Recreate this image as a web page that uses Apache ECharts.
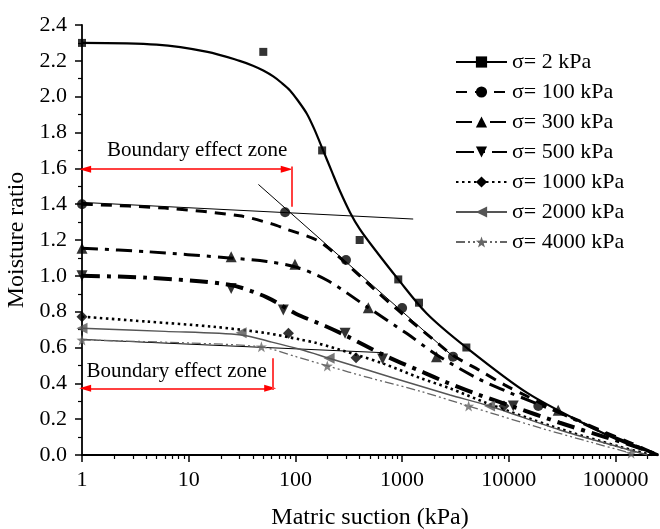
<!DOCTYPE html>
<html><head><meta charset="utf-8">
<script src="https://cdn.jsdelivr.net/npm/echarts@6/dist/echarts.min.js"></script>
<style>html,body{margin:0;padding:0;background:#fff}#c{width:660px;height:529px}</style>
</head><body><div id="c"></div>
<script>
// ---- data ----
const xTickValues = [1, 10, 100, 1000, 10000, 100000];
const xMinorTickValues = [2,3,4,5,6,7,8,9, 20,30,40,50,60,70,80,90, 200,300,400,500,600,700,800,900,
  2000,3000,4000,5000,6000,7000,8000,9000, 20000,30000,40000,50000,60000,70000,80000,90000, 200000];
const seriesNames = ['σ= 2 kPa','σ= 100 kPa','σ= 300 kPa','σ= 500 kPa','σ= 1000 kPa','σ= 2000 kPa','σ= 4000 kPa'];

// fitted curves [suction kPa, moisture ratio]
const fit2 = [[1,2.30],[5,2.29],[15,2.25],[30,2.20],[40,2.173],[50,2.146],[62,2.113],[75,2.075],[89,2.035],[105,1.98],[128,1.905],[150,1.82],[183,1.696],[220,1.58],[262,1.472],[325,1.354],[400,1.262],[537,1.158],[920,0.98],[1700,0.79],[4000,0.60],[15000,0.345],[57700,0.158],[120000,0.07],[250000,0]];
const fit100 = [[1,1.40],[6,1.378],[30,1.335],[60,1.29],[83,1.26],[158,1.20],[244,1.116],[537,0.93],[950,0.80],[2250,0.615],[3000,0.555],[5400,0.47],[9200,0.39],[15200,0.325],[27000,0.25],[46000,0.19],[81000,0.125],[142000,0.065],[250000,0]];
const fit300 = [[1,1.154],[4,1.135],[24,1.10],[54,1.08],[100,1.05],[196,0.977],[482,0.822],[1100,0.679],[2100,0.56],[5000,0.43],[10000,0.35],[30000,0.235],[80000,0.12],[150000,0.055],[250000,0]];
const fit500 = [[1,1.00],[4,0.99],[24,0.95],[54,0.88],[100,0.79],[190,0.72],[300,0.665],[660,0.56],[1600,0.46],[2500,0.41],[5000,0.34],[11000,0.27],[30000,0.18],[80000,0.10],[150000,0.05],[250000,0]];
const fit1000 = [[1,0.772],[4,0.745],[17,0.716],[54,0.68],[110,0.645],[158,0.625],[370,0.56],[667,0.51],[1470,0.43],[2810,0.372],[6200,0.29],[26100,0.158],[110000,0.046],[220000,0]];
const fit2000 = [[1,0.707],[6,0.69],[31,0.67],[60,0.63],[110,0.59],[207,0.54],[500,0.47],[1470,0.385],[2810,0.335],[6600,0.273],[30000,0.14],[100000,0.05],[200000,0]];
const fit4000 = [[1,0.642],[10,0.625],[48,0.603],[100,0.55],[200,0.497],[500,0.43],[1500,0.355],[4200,0.273],[20000,0.15],[60000,0.07],[140000,0.01]];

// measured points
const pts2 = [[1,2.30],[50,2.25],[178,1.70],[400,1.20],[920,0.98],[1440,0.85],[4000,0.60]];
const pts100 = [[1,1.40],[80,1.355],[298,1.088],[1000,0.82],[3000,0.549],[18900,0.273]];
const pts300 = [[1,1.154],[25,1.107],[99,1.064],[482,0.822],[2100,0.549],[29000,0.25]];
const pts500 = [[1,1.00],[25,0.93],[77,0.81],[292,0.679],[657,0.536],[11000,0.273]];
const pts1000 = [[1,0.772],[86,0.679],[370,0.543],[9000,0.273]];
const pts2000 = [[1,0.707],[31,0.683],[207,0.54],[6600,0.273]];
const pts4000 = [[1,0.642],[48,0.604],[199,0.497],[4200,0.273],[140000,0.01]];

// construction lines
const tangentSteep = [[45,1.51],[3000,0.55]];
const tangentFlat100 = [[1,1.41],[1270,1.317]];
const tangentFlat4000 = [[1,0.645],[667,0.571]];

// annotations
const zoneTopArrow = [[1.07,1.595],[83,1.595]];
const zoneTopBar = [[93,1.385],[93,1.61]];
const zoneTopText = [12,1.70];
const zoneBotArrow = [[1.07,0.372],[58,0.372]];
const zoneBotBar = [[61,0.363],[61,0.54]];
const zoneBotText = [7.7,0.465];
const zoneLabel = 'Boundary effect zone';

// ---- styles ----
const FONT = "'Liberation Serif', 'Times New Roman', serif";
const STAR = 'path://M0,-10 L2.35,-3.24 L9.51,-3.09 L3.8,1.24 L5.88,8.09 L0,4 L-5.88,8.09 L-3.8,1.24 L-9.51,-3.09 L-2.35,-3.24 Z';
const styles = [
  {color:'#000', width:2.2, type:'solid', symbol:'rect', size:8, rot:0},
  {color:'#000', width:3, type:[11,8], symbol:'circle', size:10, rot:0},
  {color:'#000', width:3, type:[16,7,4,7], symbol:'triangle', size:11, rot:0},
  {color:'#000', width:4, type:[18,7,4,7], symbol:'triangle', size:11, rot:180},
  {color:'#000', width:2.6, type:[2.5,3.5], symbol:'diamond', size:11, rot:0},
  {color:'#555', width:1.5, type:'solid', symbol:'triangle', size:11, rot:90},
  {color:'#666', width:1.3, type:[9,3,2,3,2,3], symbol:STAR, size:11, rot:0}
];
const fits = [fit2, fit100, fit300, fit500, fit1000, fit2000, fit4000];
const pts = [pts2, pts100, pts300, pts500, pts1000, pts2000, pts4000];

const series = [];
fits.forEach((f, i) => {
  const s = styles[i];
  series.push({
    type:'line', name: seriesNames[i], data: f, smooth: 0.3,
    showSymbol:false, symbol:s.symbol, symbolSize:s.size, symbolRotate:s.rot,
    lineStyle:{color:s.color, width:s.width, type:s.type, cap:'butt'},
    itemStyle:{color:s.color}, silent:true, z:2
  });
});
pts.forEach((p, i) => {
  const s = styles[i];
  series.push({
    type:'scatter', name: seriesNames[i], data: p,
    symbol:s.symbol, symbolSize:s.size, symbolRotate:s.rot,
    itemStyle:{color:s.color}, silent:true, z:3
  });
});
[tangentSteep, tangentFlat100, tangentFlat4000].forEach(t => {
  series.push({type:'line', data:t, showSymbol:false, silent:true, z:1,
    lineStyle:{color:'#000', width:1}});
});
const redLine = {color:'#ff0000', width:1.5, type:'solid'};
const redBar = {color:'#ff4040', width:2, type:'solid'};
series.push({
  type:'line', data:[], silent:true, z:4,
  markLine:{
    silent:true, animation:false, label:{show:false},
    emphasis:{disabled:true},
    data:[
      [{coord:zoneTopArrow[0], symbol:'triangle', symbolSize:[7,12], lineStyle:redLine},
       {coord:zoneTopArrow[1], symbol:'triangle', symbolSize:[7,12]}],
      [{coord:zoneBotArrow[0], symbol:'triangle', symbolSize:[7,12], lineStyle:redLine},
       {coord:zoneBotArrow[1], symbol:'triangle', symbolSize:[7,12]}],
      [{coord:zoneTopBar[0], symbol:'none', lineStyle:redBar},
       {coord:zoneTopBar[1], symbol:'none'}],
      [{coord:zoneBotBar[0], symbol:'none', lineStyle:redBar},
       {coord:zoneBotBar[1], symbol:'none'}]
    ]
  },
  markPoint:{
    silent:true, animation:false, symbolSize:0,
    label:{show:true, position:'inside', color:'#000', fontSize:21, fontFamily:FONT, formatter:zoneLabel},
    data:[{coord:zoneTopText}, {coord:zoneBotText}]
  }
});

const chart = echarts.init(document.getElementById('c'), null, {renderer:'canvas'});
chart.setOption({
  animation:false,
  backgroundColor:'#fff',
  textStyle:{fontFamily:FONT},
  grid:{left:82, right:2, top:25, bottom:74, containLabel:false, outerBoundsMode:'none'},
  legend:{
    orient:'vertical', left:455, top:51, padding:0, itemWidth:51, itemHeight:14, itemGap:8,
    selectedMode:false, data:seriesNames,
    textStyle:{fontSize:22, lineHeight:22, fontFamily:FONT, color:'#000'}
  },
  xAxis:[{
    type:'log', logBase:10, min:1, max:250000,
    name:'Matric suction (kPa)', nameLocation:'middle', nameGap:51,
    nameTextStyle:{fontSize:24, fontFamily:FONT, color:'#000'},
    axisLine:{show:true, onZero:false, lineStyle:{color:'#000', width:1.8}},
    axisTick:{show:true, inside:false, length:7, customValues:xTickValues, lineStyle:{color:'#000', width:1.5}},
    axisLabel:{margin:14, fontSize:22, fontFamily:FONT, color:'#000', customValues:xTickValues,
      formatter: v => String(Math.round(v))},
    splitLine:{show:false}, minorTick:{show:false}
  },{
    type:'log', logBase:10, min:1, max:250000, position:'bottom',
    axisLine:{show:false},
    axisTick:{show:true, inside:false, length:4, customValues:xMinorTickValues, lineStyle:{color:'#000', width:1.2}},
    axisLabel:{show:false}, splitLine:{show:false}
  }],
  yAxis:{
    type:'value', min:0, max:2.4, interval:0.2,
    name:'Moisture ratio', nameLocation:'middle', nameGap:44,
    nameTextStyle:{fontSize:24, fontFamily:FONT, color:'#000'},
    axisLine:{show:true, onZero:false, lineStyle:{color:'#000', width:1.8}},
    axisTick:{show:true, inside:false, length:7, lineStyle:{color:'#000', width:1.5}},
    minorTick:{show:true, splitNumber:2, length:4, lineStyle:{color:'#000', width:1.2}},
    axisLabel:{margin:15, fontSize:22, fontFamily:FONT, color:'#000', formatter:v => v.toFixed(1)},
    splitLine:{show:false}
  },
  series: series
});
</script></body></html>
